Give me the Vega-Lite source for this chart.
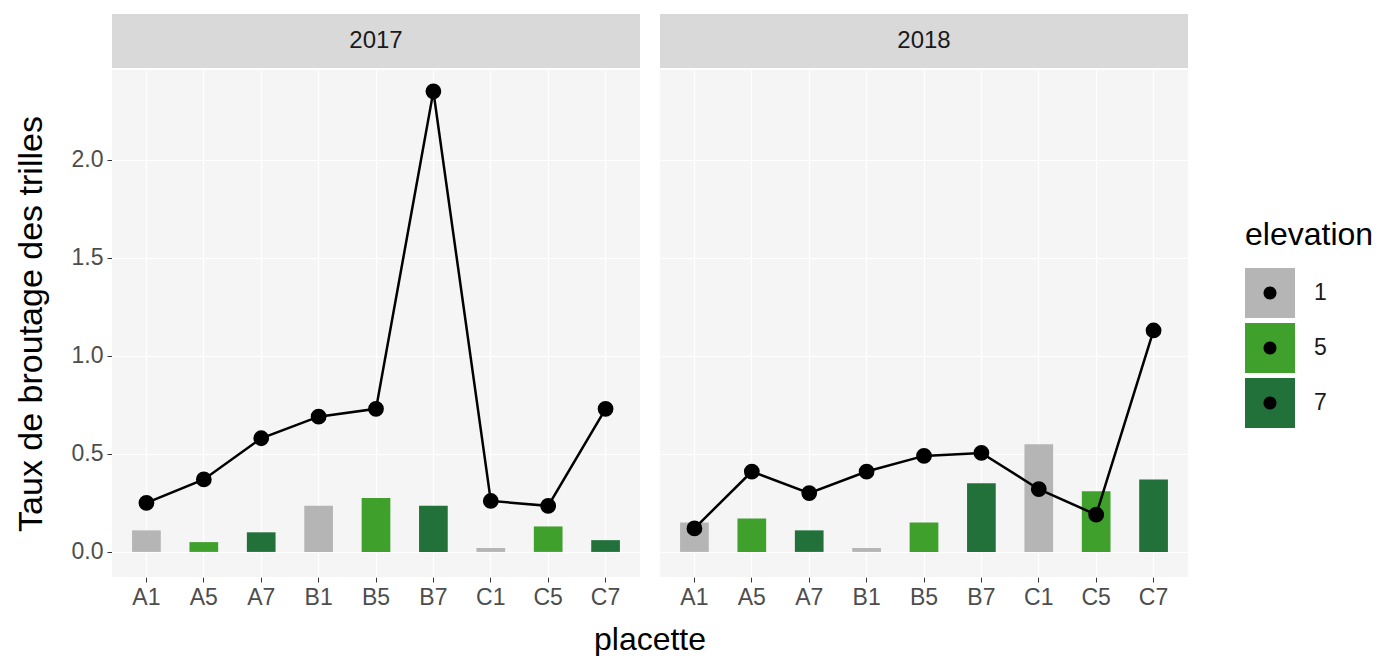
{
  "$schema": "https://vega.github.io/schema/vega-lite/v6.json",
  "background": "white",
  "padding": {"left": 14, "top": 14, "right": 0, "bottom": 0},
  "bounds": "flush",
  "spacing": 2,
  "config": {
    "font": "Liberation Sans",
    "view": {"stroke": null, "fill": "#f5f5f5"},
    "facet": {"spacing": 20},
    "axis": {
      "labelFont": "Liberation Sans",
      "labelFontSize": 23,
      "labelColor": "#4d4d4d",
      "tickColor": "#333333",
      "tickSize": 5,
      "labelPadding": 4,
      "domain": false,
      "gridColor": "#ffffff",
      "gridWidth": 1.2,
      "titleFont": "Liberation Sans",
      "titleFontSize": 34,
      "titleFontWeight": "normal",
      "titleColor": "#000000"
    },
    "legend": {
      "labelFont": "Liberation Sans",
      "titleFont": "Liberation Sans"
    }
  },
  "datasets": {
    "strips": [{"annee": "2017"}, {"annee": "2018"}],
    "taux": [
      {"annee": "2017", "placette": "A1", "elevation": "1", "barre": 0.11, "ligne": 0.25},
      {"annee": "2017", "placette": "A5", "elevation": "5", "barre": 0.05, "ligne": 0.37},
      {"annee": "2017", "placette": "A7", "elevation": "7", "barre": 0.10, "ligne": 0.58},
      {"annee": "2017", "placette": "B1", "elevation": "1", "barre": 0.235, "ligne": 0.69},
      {"annee": "2017", "placette": "B5", "elevation": "5", "barre": 0.275, "ligne": 0.73},
      {"annee": "2017", "placette": "B7", "elevation": "7", "barre": 0.235, "ligne": 2.35},
      {"annee": "2017", "placette": "C1", "elevation": "1", "barre": 0.02, "ligne": 0.26},
      {"annee": "2017", "placette": "C5", "elevation": "5", "barre": 0.13, "ligne": 0.235},
      {"annee": "2017", "placette": "C7", "elevation": "7", "barre": 0.06, "ligne": 0.73},
      {"annee": "2018", "placette": "A1", "elevation": "1", "barre": 0.15, "ligne": 0.12},
      {"annee": "2018", "placette": "A5", "elevation": "5", "barre": 0.17, "ligne": 0.41},
      {"annee": "2018", "placette": "A7", "elevation": "7", "barre": 0.11, "ligne": 0.30},
      {"annee": "2018", "placette": "B1", "elevation": "1", "barre": 0.02, "ligne": 0.41},
      {"annee": "2018", "placette": "B5", "elevation": "5", "barre": 0.15, "ligne": 0.49},
      {"annee": "2018", "placette": "B7", "elevation": "7", "barre": 0.35, "ligne": 0.505},
      {"annee": "2018", "placette": "C1", "elevation": "1", "barre": 0.55, "ligne": 0.32},
      {"annee": "2018", "placette": "C5", "elevation": "5", "barre": 0.31, "ligne": 0.19},
      {"annee": "2018", "placette": "C7", "elevation": "7", "barre": 0.37, "ligne": 1.13}
    ]
  },
  "vconcat": [
    {
      "data": {"name": "strips"},
      "width": 1076,
      "height": 54,
      "view": {"fill": "#ffffff"},
      "encoding": {
        "x": {
          "field": "annee",
          "type": "nominal",
          "scale": {"paddingInner": 0.0365, "paddingOuter": 0},
          "axis": null
        }
      },
      "layer": [
        {"mark": {"type": "bar", "color": "#d9d9d9"}},
        {"mark": {"type": "text", "fontSize": 24, "color": "#1a1a1a", "font": "Liberation Sans"}, "encoding": {"text": {"field": "annee"}}}
      ]
    },
    {
      "data": {"name": "taux"},
      "facet": {
        "column": {
          "field": "annee",
          "type": "nominal",
          "header": {
            "labels": false,
            "title": "placette",
            "titleOrient": "bottom",
            "titleFont": "Liberation Sans",
            "titleFontSize": 32,
            "titleFontWeight": "normal",
            "titleColor": "#000000",
            "titlePadding": 6
          }
        }
      },
      "spec": {
        "width": 528,
        "height": 507,
        "encoding": {
          "x": {
            "field": "placette",
            "type": "nominal",
            "scale": {"paddingInner": 0.5, "paddingOuter": 0.35},
            "axis": {"title": null, "labelAngle": 0, "grid": true}
          }
        },
        "layer": [
          {
            "mark": {"type": "bar"},
            "encoding": {
              "y": {
                "field": "barre",
                "type": "quantitative",
                "scale": {"domain": [-0.128, 2.459], "nice": false, "zero": false},
                "axis": {"title": "Taux de broutage des trilles", "values": [0, 0.5, 1, 1.5, 2], "format": ".1f", "grid": true, "titlePadding": 23}
              },
              "color": {
                "field": "elevation",
                "type": "nominal",
                "scale": {"domain": ["1", "5", "7"], "range": ["#b5b5b5", "#40a02c", "#22703a"]},
                "legend": {
                  "title": "elevation",
                  "orient": "none",
                  "legendX": 1133,
                  "legendY": 206,
                  "padding": 0,
                  "symbolType": "square",
                  "symbolSize": 2500,
                  "symbolStrokeWidth": 0,
                  "symbolOpacity": 1,
                  "rowPadding": 5,
                  "labelOffset": 19,
                  "labelFontSize": 23,
                  "labelColor": "#1a1a1a",
                  "titleFontSize": 32,
                  "titleFontWeight": "normal",
                  "titleColor": "#000000",
                  "titlePadding": 16
                }
              }
            }
          },
          {
            "mark": {"type": "line", "color": "#000000", "strokeWidth": 2.5},
            "encoding": {
              "y": {"field": "ligne", "type": "quantitative"}
            }
          },
          {
            "mark": {"type": "point", "filled": true, "color": "#000000", "opacity": 1, "size": 190},
            "encoding": {
              "y": {"field": "ligne", "type": "quantitative"},
              "stroke": {
                "field": "elevation",
                "type": "nominal",
                "scale": {"range": ["#000000", "#000000", "#000000"]},
                "legend": {
                  "title": null,
                  "orient": "none",
                  "legendX": 1133,
                  "legendY": 254,
                  "padding": 0,
                  "symbolType": "M-1,-1M1,1M0.26,0A0.26,0.26,0,1,1,-0.26,0A0.26,0.26,0,1,1,0.26,0Z",
                  "symbolSize": 2500,
                  "symbolFillColor": "#000000",
                  "symbolStrokeWidth": 0,
                  "symbolOpacity": 1,
                  "rowPadding": 5,
                  "labelOffset": 19,
                  "labelFontSize": 23,
                  "labelExpr": "''"
                }
              }
            }
          }
        ]
      }
    }
  ]
}
